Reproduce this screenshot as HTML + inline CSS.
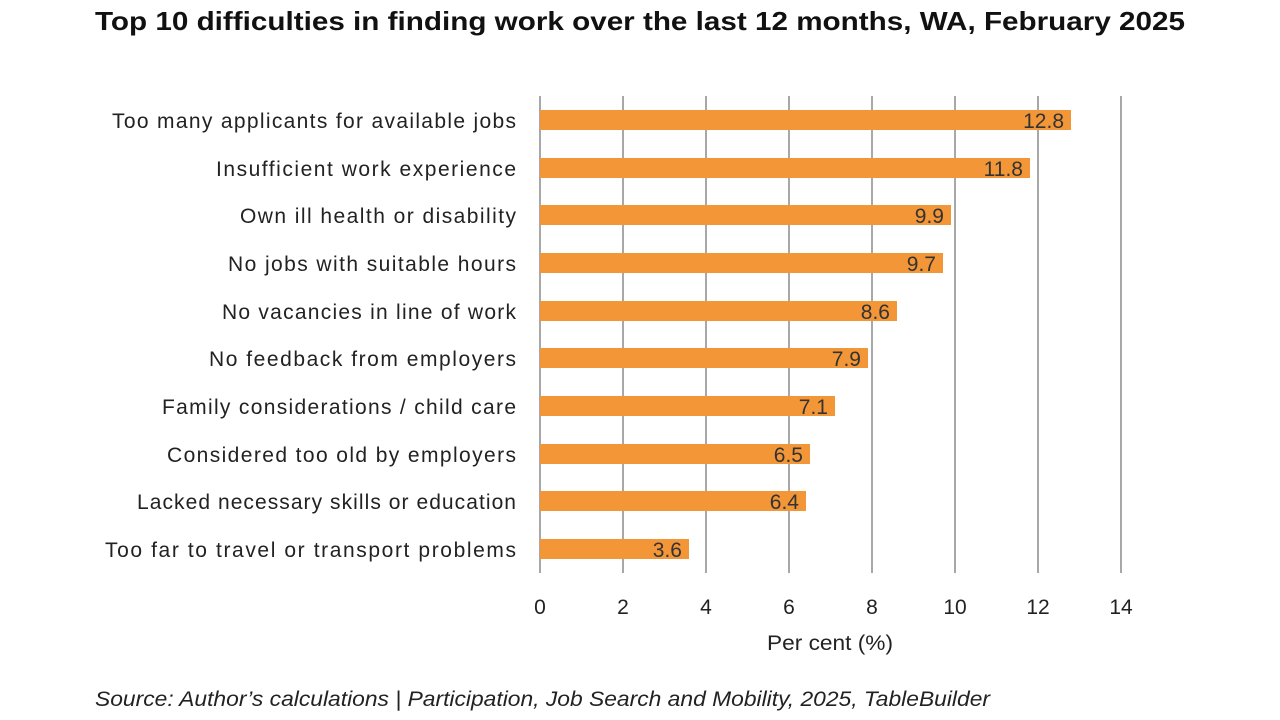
<!DOCTYPE html>
<html><head><meta charset="utf-8"><style>
html,body{margin:0;padding:0;background:#fff;}
svg{display:block;}
</style></head><body>
<svg width="1280" height="720" viewBox="0 0 1280 720" xmlns="http://www.w3.org/2000/svg" font-family="'Liberation Sans', sans-serif">
<rect width="1280" height="720" fill="#fff"/>
<text x="95" y="30" font-size="26" font-weight="bold" fill="#111" textLength="1090" lengthAdjust="spacingAndGlyphs">Top 10 difficulties in finding work over the last 12 months, WA, February 2025</text>
<g stroke="#8c8c8c" stroke-width="1.5">
<line x1="540" y1="96" x2="540" y2="573"/>
<line x1="623" y1="96" x2="623" y2="573"/>
<line x1="706" y1="96" x2="706" y2="573"/>
<line x1="789" y1="96" x2="789" y2="573"/>
<line x1="872" y1="96" x2="872" y2="573"/>
<line x1="955" y1="96" x2="955" y2="573"/>
<line x1="1038" y1="96" x2="1038" y2="573"/>
<line x1="1121" y1="96" x2="1121" y2="573"/>
</g>
<g fill="#f39637">
<rect x="540" y="110" width="531" height="20"/>
<rect x="540" y="158" width="490" height="20"/>
<rect x="540" y="205" width="411" height="20"/>
<rect x="540" y="253" width="403" height="20"/>
<rect x="540" y="301" width="357" height="20"/>
<rect x="540" y="348" width="328" height="20"/>
<rect x="540" y="396" width="295" height="20"/>
<rect x="540" y="444" width="270" height="20"/>
<rect x="540" y="491" width="266" height="20"/>
<rect x="540" y="539" width="149" height="20"/>
</g>
<g font-size="21" fill="#222" lengthAdjust="spacingAndGlyphs">
<text x="112" y="128" textLength="404">Too many applicants for available jobs</text>
<text x="216" y="176" textLength="300">Insufficient work experience</text>
<text x="240" y="223" textLength="276">Own ill health or disability</text>
<text x="228" y="271" textLength="288">No jobs with suitable hours</text>
<text x="222" y="319" textLength="294">No vacancies in line of work</text>
<text x="209" y="366" textLength="307">No feedback from employers</text>
<text x="162" y="414" textLength="354">Family considerations / child care</text>
<text x="167" y="462" textLength="349">Considered too old by employers</text>
<text x="137" y="509" textLength="379">Lacked necessary skills or education</text>
<text x="105" y="557" textLength="411">Too far to travel or transport problems</text>
</g>
<g font-size="21" fill="#333" text-anchor="end">
<text x="1064" y="128">12.8</text>
<text x="1023" y="176">11.8</text>
<text x="944" y="223">9.9</text>
<text x="936" y="271">9.7</text>
<text x="890" y="319">8.6</text>
<text x="861" y="366">7.9</text>
<text x="828" y="414">7.1</text>
<text x="803" y="462">6.5</text>
<text x="799" y="509">6.4</text>
<text x="682" y="557">3.6</text>
</g>
<g font-size="21" fill="#222" text-anchor="middle">
<text x="540" y="614">0</text>
<text x="623" y="614">2</text>
<text x="706" y="614">4</text>
<text x="789" y="614">6</text>
<text x="872" y="614">8</text>
<text x="955" y="614">10</text>
<text x="1038" y="614">12</text>
<text x="1121" y="614">14</text>
</g>
<text x="767" y="650" font-size="21" fill="#222" textLength="126" lengthAdjust="spacingAndGlyphs">Per cent (%)</text>
<text x="95" y="706" font-size="21" font-style="italic" fill="#222" textLength="895" lengthAdjust="spacingAndGlyphs">Source: Author’s calculations | Participation, Job Search and Mobility, 2025, TableBuilder</text>
</svg>
</body></html>
